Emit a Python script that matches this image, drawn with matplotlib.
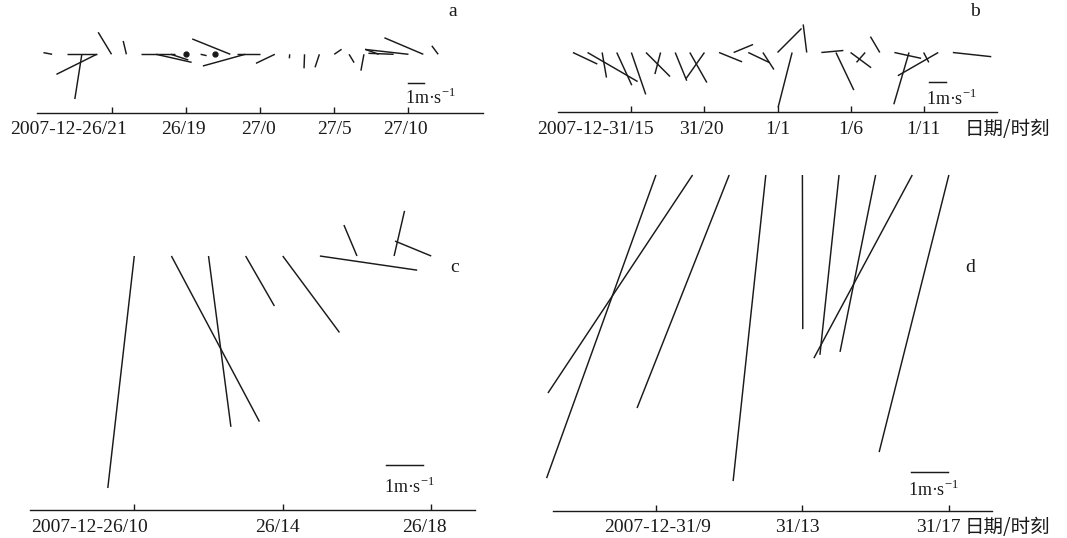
import matplotlib
matplotlib.use('Agg')
import matplotlib.pyplot as plt

plt.rcParams['font.family'] = ['Liberation Serif', 'DejaVu Serif']
plt.rcParams['mathtext.fontset'] = 'custom'
plt.rcParams['mathtext.rm'] = 'Liberation Serif'

W, H = 1067, 538

# panel a: hours after 2007-12-26/21 tick, wind u/v in m/s
a_hours = [-4, -3, -2, -1, 0, 1, 2, 3, 4, 6, 8, 9, 10, 11, 12, 13, 14, 15, 16, 17, 18, 19, 20, 21, 22]
a_u = [-0.52, 1.77, -0.42, -2.41, -0.80, -0.19, 2.01, 2.13, 1.04, 0.36, -2.28, -2.53, -1.40,
       -1.13, -0.02, -0.03, -0.26, 0.44, 0.30, -0.18, -0.82, -1.51, -2.59, -2.33, -0.38]
a_v = [0.10, 0.0, -2.68, -1.20, 1.32, 0.80, 0.0, -0.48, -0.34, -0.08, 0.92, -0.70, 0.0,
       -0.54, -0.24, -0.84, -0.78, 0.30, -0.50, -0.98, 0.30, 0.06, 0.29, 0.99, 0.51]
a_calm = [5, 7]
a_ticks = [0, 5, 10, 15, 20]
a_labels = ['2007-12-26/21', '26/19', '27/0', '27/5', '27/10']

# panel b: hours after 2007-12-31/15
b_hours = list(range(-4, 23))
b_u = [1.46, 3.0, 0.26, 0.90, 0.86, 1.44, -0.34, 0.69, 1.02, -1.10, 1.38, 1.16, 1.26, 0.66,
       1.44, -0.84, -0.21, 1.32, 1.07, 1.23, -0.52, -0.56, 1.60, -0.91, 0.31, -2.42, 2.30]
b_v = [-0.69, -1.74, -1.50, -1.96, -2.51, -1.44, -1.29, -1.69, -1.80, -1.56, -0.56, 0.48, -0.60, -1.02,
       1.44, -3.29, 1.68, 0.12, -2.25, -0.91, -0.59, 0.95, -0.35, -3.10, -0.59, -1.39, -0.25]
b_ticks = [0, 5, 10, 15, 20]
b_labels = ['2007-12-31/15', '31/20', '1/1', '1/6', '1/11']

# panel c: hours after 2007-12-26/10
c_hours = [0, 1, 2, 3, 4, 5, 6, 7, 8]
c_u = [-0.71, 2.36, 0.60, 0.77, 1.52, 2.61, -0.35, 0.28, -0.97]
c_v = [-6.22, -4.44, -4.58, -1.34, -2.05, -0.38, 0.83, 1.21, 0.40]
c_ticks = [0, 4, 8]
c_labels = ['2007-12-26/10', '26/14', '26/18']

# panel d: hours after 2007-12-31/9
d_hours = [0, 1, 2, 3, 4, 5, 6, 7, 8]
d_u = [-2.98, -3.94, -2.51, -0.89, 0.01, -0.52, -0.97, -2.68, -1.90]
d_v = [-8.26, -5.94, -6.35, -8.34, -4.20, -4.90, -4.82, -4.99, -7.55]
d_ticks = [0, 4, 8]
d_labels = ['2007-12-31/9', '31/13', '31/17']

fig = plt.figure(figsize=(W / 100, H / 100), dpi=100)
INK = '#1a1a1a'


def panel(hours, u, v, ticks, labels, lay, calm=()):
    left, right, axis_y, top = lay['box']
    x0, x1 = lay['xlim']
    ax = fig.add_axes([left / W, 1 - axis_y / H, (right - left) / W, (axis_y - top) / H])
    pph = (right - left) / (x1 - x0)
    ax.set_xlim(x0, x1)
    ax.set_ylim(0, (axis_y - top) / pph)
    for s in ['left', 'right', 'top']:
        ax.spines[s].set_visible(False)
    ax.spines['bottom'].set_linewidth(1.0)
    ax.spines['bottom'].set_color(INK)
    ax.set_yticks([])
    ax.set_xticks(ticks)
    ax.tick_params(axis='x', direction='in', length=4.3, width=1.0, color=INK, labelbottom=False)

    def to_data(px, py):
        return x0 + (px - left) / pph, (axis_y - py) / pph

    k = lay['px_ms'] / pph
    y0 = (axis_y - lay['base']) / pph
    for t, uu, vv in zip(hours, u, v):
        ax.plot([t, t + k * uu], [y0, y0 + k * vv], color=INK, lw=1.05,
                clip_on=False, solid_capstyle='butt')
    if calm:
        ax.plot(calm, [y0] * len(calm), 'o', color=INK, ms=3.5, clip_on=False)

    bx, by = to_data(*lay['bar'])
    ax.plot([bx, bx + k], [by, by], color=INK, lw=1.05, clip_on=False)
    tx, ty = to_data(*lay['bar_text'])
    ax.text(tx, ty, '1m·s$^{-1}$', fontsize=13, ha='left', va='center', color=INK)

    for t, lab, dx in zip(ticks, labels, lay['label_dx']):
        ax.annotate(lab, xy=(t, 0), xytext=(dx * 0.72, -17 * 0.72), textcoords='offset points',
                    ha='center', va='center', fontsize=14, color=INK, annotation_clip=False)
    return ax


panel(a_hours, a_u, a_v, a_ticks, a_labels,
      dict(box=(37.3, 482.7, 113, 5), xlim=(-5, 25), base=54.3, px_ms=16.7,
           bar=(407.7, 82.7), bar_text=(405, 98), label_dx=[-43, -2, -2, 0, -3]), calm=a_calm)
panel(b_hours, b_u, b_v, b_ticks, b_labels,
      dict(box=(558.3, 996.7, 112.3, 5), xlim=(-5, 25), base=52.5, px_ms=16.7,
           bar=(929.3, 81.7), bar_text=(926, 99), label_dx=[-36, -3, 0, 0, 0]))
panel(c_hours, c_u, c_v, c_ticks, c_labels,
      dict(box=(30, 475, 510, 195), xlim=(-2.81, 9.18), base=256, px_ms=37.3,
           bar=(386, 465), bar_text=(384, 487), label_dx=[-45, -5, -7]))
panel(d_hours, d_u, d_v, d_ticks, d_labels,
      dict(box=(552.7, 991.7, 510.7, 165), xlim=(-2.82, 9.17), base=175, px_ms=36.7,
           bar=(911, 471.7), bar_text=(908, 490), label_dx=[2, -5, -10]))

for x, y, s in [(453, 12, 'a'), (975, 12, 'b'), (455, 268, 'c'), (970, 267, 'd')]:
    fig.text(x / W, 1 - y / H, s, fontsize=14, ha='center', va='center', color=INK)

for y in [130, 528]:
    fig.text(965 / W, 1 - y / H, '日期/时刻', family=['Noto Sans CJK SC', 'DejaVu Sans'],
             fontsize=14, ha='left', va='center', color=INK)

fig.savefig('out.png', dpi=100)
